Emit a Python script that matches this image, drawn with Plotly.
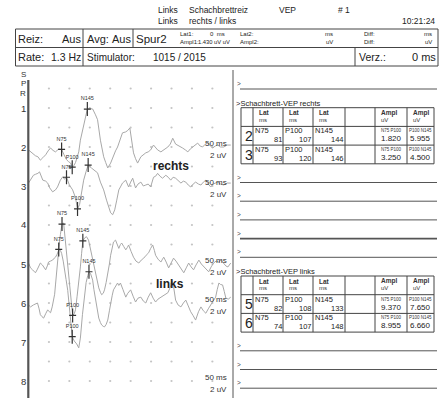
import plotly.graph_objects as go

W, H = 444, 398
FONT = "Liberation Sans, Arial, sans-serif"

# ---------------- recording data ----------------
# channels (Spur) shown on the sweep panel
spur = [2, 3, 5, 6]
side = ["rechts", "rechts", "links", "links"]

# sweep time (ms) and upward deflection (µV) for each channel
sp2_ms = [0, 5, 12, 17, 23, 29, 35, 42, 48, 54, 60, 66, 74, 81, 87, 93, 98, 103, 107, 111,
          115, 119, 123, 127, 131, 135, 140, 144, 150, 157, 164, 169, 176, 184, 189, 194, 201,
          208, 213, 218, 224, 230, 238, 243, 248, 252, 257, 262, 267, 275, 281, 287, 293, 299,
          306, 311, 316, 324, 333, 341, 347, 353, 360, 365, 371, 377, 384, 390, 396, 402, 408,
          414, 420, 426, 433, 439, 445, 451, 457, 463, 470, 478, 486, 495]
sp2_uv = [-0.3, -0.5, -0.7, -0.9, -1.0, -1.35, -1.1, -0.8, -0.4, -0.1, -0.35, -0.5, -0.2, -0.25,
          -0.8, -1.3, -1.5, -1.65, -2.07, -1.9, -1.6, -1.0, -0.5, 0.7, 1.5, 2.3, 3.1, 3.885, 3.95,
          3.9, 3.3, 2.8, 0.7, -1.0, -1.6, -2.15, -1.65, -0.8, -0.4, 0.0, 0.8, 1.45, 1.55, 1.7,
          1.95, 0.7, -0.6, -1.2, -1.65, -1.0, -0.8, -0.6, -0.5, -0.3, 0.2, -0.1, -0.3, -0.5, -0.2,
          0.0, 0.3, 0.9, 0.3, 0.2, 0.1, -0.1, -0.3, -0.5, -0.2, 0.0, 0.2, 0.4, 0.1, 0.0, 0.3, 0.4,
          0.1, -0.1, 0.1, 0.2, 0.0, 0.0, 0.2, 0.2]

sp3_ms = [0, 5, 12, 17, 23, 27, 31, 35, 42, 47, 52, 59, 66, 71, 78, 84, 88, 93, 100, 108, 115,
          120, 125, 130, 135, 141, 146, 154, 162, 169, 176, 184, 191, 196, 201, 206, 211, 216,
          221, 225, 230, 238, 245, 250, 255, 262, 268, 275, 281, 287, 293, 299, 306, 311, 316,
          322, 328, 336, 342, 348, 354, 360, 367, 373, 379, 385, 391, 397, 403, 409, 416, 422,
          428, 434, 440, 446, 452, 458, 463, 470, 478, 486, 495]
sp3_uv = [0.3, 0.6, 1.1, 1.2, 1.3, 1.45, 1.0, 0.6, 0.5, 0.3, -0.2, -0.6, -0.4, -0.1, 0.6, 0.95,
          0.7, 0.9, 0.1, -0.4, -1.2, -2.35, -1.9, -0.6, 0.6, 1.5, 2.15, 1.85, 1.55, 1.35, 0.4,
          -0.4, -1.45, -2.15, -2.75, -2.95, -2.45, -1.45, -0.4, -0.1, 0.3, 0.6, -0.1, 0.4, 0.8,
          -0.2, 0.2, 0.4, 0.0, 0.1, 0.2, -0.1, 0.9, 1.0, 1.3, 1.0, 0.8, 1.1, 0.9, 0.6, 0.9, 0.8,
          0.5, 0.3, 0.5, 0.4, 0.1, -0.1, 0.2, 0.4, 0.2, 0.1, 0.4, 0.6, 0.2, -0.1, 0.2, 0.3, 0.4,
          0.2, 0.1, 0.3, 0.3]

sp5_ms = [0, 5, 10, 17, 21, 25, 29, 34, 38, 42, 46, 49, 54, 59, 63, 66, 70, 74, 78, 82, 86, 91,
          95, 98, 102, 105, 108, 112, 115, 119, 123, 127, 130, 133, 138, 142, 147, 152, 159, 164,
          168, 172, 176, 179, 183, 186, 190, 194, 198, 201, 205, 208, 213, 217, 221, 225, 228,
          233, 238, 242, 245, 251, 257, 263, 270, 276, 282, 288, 294, 299, 304, 308, 311, 317,
          324, 328, 331, 337, 343, 349, 355, 361, 368, 374, 380, 386, 392, 398, 404, 410, 417,
          423, 429, 435, 441, 447, 453, 459, 465, 471, 477, 483, 488, 495]
sp5_uv = [0.1, -0.4, -0.6, -0.9, -0.6, -0.3, 0.1, -0.1, -0.4, -0.6, -0.2, 0.2, 0.3, 0.4, 0.6, 0.7,
          1.0, 1.45, 3.0, 4.1, 4.2, 2.15, 0.4, -1.3, -2.6, -3.7, -5.27, -5.1, -4.7, -3.3, -1.95,
          -0.3, 1.1, 2.38, 2.7, 2.8, 2.45, 1.45, 0.2, -1.1, -1.9, -2.45, -2.9, -3.15, -3.0, -2.65,
          -1.9, -1.1, 0.0, 0.9, 1.7, 2.25, 2.45, 2.1, 1.6, 2.0, 2.15, 1.8, 1.45, 1.7, 1.95, 1.3,
          0.7, 0.3, 0.1, 0.4, 0.6, 0.9, 1.15, 1.6, 1.95, 1.4, 0.9, 0.5, 0.2, 0.5, 0.7, 0.2, -0.4,
          0.1, 0.6, 0.3, -0.1, -0.5, -0.9, -0.4, 0.1, -0.3, -0.6, -0.1, 0.4, 0.0, -0.3, -0.6,
          -0.8, -0.3, 0.1, 0.3, 0.2, 0.4, 0.1, -0.2, -0.3, 0.1]

sp6_ms = [0, 5, 12, 17, 22, 26, 29, 33, 37, 42, 47, 51, 54, 58, 61, 64, 66, 70, 74, 78, 81, 85,
          88, 92, 96, 100, 103, 107, 112, 118, 123, 127, 132, 137, 141, 145, 148, 152, 157, 160,
          164, 168, 172, 176, 179, 183, 186, 190, 194, 198, 201, 205, 208, 213, 218, 221, 225,
          231, 238, 243, 250, 256, 262, 268, 275, 281, 287, 293, 299, 305, 311, 317, 324, 330,
          336, 341, 347, 351, 355, 360, 366, 373, 379, 385, 391, 397, 403, 409, 416, 422, 428,
          434, 440, 446, 452, 458, 462, 466, 470, 475, 479, 483, 489, 495]
sp6_uv = [-0.2, -0.4, -0.2, -0.1, 0.0, -0.6, -1.2, -1.4, -1.55, -1.1, -0.7, -0.9, -1.0, -0.4, 0.1,
          0.9, 1.85, 3.8, 5.5, 5.4, 5.1, 4.3, 3.6, 2.4, 1.3, -0.2, -1.5, -3.455, -3.9, -4.2, -4.6,
          -3.6, -1.2, 1.1, 2.1, 2.8, 3.205, 3.0, 2.35, 1.4, 0.3, -0.7, -1.55, -2.0, -2.25, -2.4,
          -2.45, -2.2, -1.75, -0.8, 0.1, 0.8, 1.35, 1.7, 2.05, 1.8, 2.05, 1.4, 0.6, 1.0, 1.35,
          0.7, 0.1, 0.5, 0.6, 0.2, 0.0, 0.6, 1.05, 0.5, 0.1, 0.4, 0.6, 0.8, 0.9, 1.05, 1.6, 2.3,
          1.7, 0.3, -0.2, -0.4, 0.0, 0.3, -0.3, -0.9, -1.3, -1.75, -0.9, -0.4, -0.8, -1.05, -0.6,
          -0.2, 0.3, 0.6, 1.4, 2.05, 1.9, 1.85, 1.2, 0.5, 0.4, 0.6]

sweeps_ms = [sp2_ms, sp3_ms, sp5_ms, sp6_ms]
sweeps_uv = [sp2_uv, sp3_uv, sp5_uv, sp6_uv]

# peak latencies (ms) and peak-to-peak amplitudes (µV)
lat_n75 = [81, 93, 82, 74]
lat_p100 = [107, 120, 108, 107]
lat_n145 = [144, 146, 133, 148]
ampl_n75_p100 = [1.820, 3.250, 9.370, 8.955]
ampl_p100_n145 = [5.955, 4.500, 7.650, 6.660]
n75_level = [-0.25, 0.9, 4.1, 5.5]   # deflection at the N75 cursor (µV)
peak_names = ["N75", "P100", "N145"]

rows = [1, 2, 3, 4, 5, 6, 7, 8]
scale_rows = [2, 3, 5, 6, 8]
grid_ms = [50, 100, 150, 200, 250, 300, 350, 400, 450]
row_gap_uv = 4.0           # channel spacing on screen
grid_uv = [-2.0 * k for k in range(1, 17)]

# ---------------- helpers ----------------
shapes, ann = [], []


def xp(x):
    return x / W


def yp(y):
    return 1 - y / H


def text(x, y, s, size=8, anchor="left", color="#222", family=FONT):
    ann.append(dict(x=xp(x), y=yp(y), xref="paper", yref="paper", text=s, showarrow=False,
                    xanchor=anchor, yanchor="middle", borderpad=0,
                    font=dict(size=size, family=family, color=color)))


def hline(x0, x1, y, w=1, c="#444"):
    shapes.append(dict(type="line", xref="paper", yref="paper", x0=xp(x0), x1=xp(x1),
                       y0=yp(y), y1=yp(y), line=dict(width=w, color=c)))


def vline(x, y0, y1, w=1, c="#444"):
    shapes.append(dict(type="line", xref="paper", yref="paper", x0=xp(x), x1=xp(x),
                       y0=yp(y0), y1=yp(y1), line=dict(width=w, color=c)))


fig = go.Figure()

# ---------------- sweep panel ----------------
gx, gy = [], []
for t in grid_ms:
    for v in grid_uv:
        gx.append(t)
        gy.append(v)
fig.add_trace(go.Scatter(x=gx, y=gy, mode="markers", hoverinfo="skip",
                         marker=dict(size=2.2, color="#c4c4c4")))

for i, ch in enumerate(spur):
    base = -row_gap_uv * ch
    fig.add_trace(go.Scatter(x=sweeps_ms[i], y=[base + v for v in sweeps_uv[i]], mode="lines",
                             line=dict(color="#a8a8a8", width=1), hoverinfo="skip"))

for i, ch in enumerate(spur):
    base = -row_gap_uv * ch
    lv_n75 = n75_level[i]
    lv_p100 = lv_n75 - ampl_n75_p100[i]
    lv_n145 = lv_p100 + ampl_p100_n145[i]
    mx = [lat_n75[i], lat_p100[i], lat_n145[i]]
    my = [base + lv_n75, base + lv_p100, base + lv_n145]
    fig.add_trace(go.Scatter(x=mx, y=my, mode="markers+text", text=peak_names,
                             textposition="top center",
                             textfont=dict(size=5.5, family=FONT, color="#333"),
                             marker=dict(symbol="line-ns", size=10,
                                         line=dict(width=1.2, color="#333")),
                             hoverinfo="skip"))
    fig.add_trace(go.Scatter(x=mx, y=my, mode="markers",
                             marker=dict(symbol="line-ew", size=5,
                                         line=dict(width=1.2, color="#333")),
                             hoverinfo="skip"))


# px position of channel rows: row 1 at y=108, 39 px per row
def row_y(r):
    return 108 + 39 * (r - 1)


for r in rows:
    text(26.5, row_y(r), str(r), size=9.5, anchor="right", color="#333")
for i, ch in enumerate("SPR"):
    text(26.5, 74 + 9.5 * i, ch, size=8, anchor="right", color="#333")
for r in scale_rows:
    text(228, row_y(r) - 4, "50 ms", size=8, anchor="right", color="#333")
    text(228, row_y(r) + 8, "2 uV", size=8, anchor="right", color="#333")
text(171, 166, "<b>rechts</b>", size=12, anchor="center", color="#222")
text(170, 284, "<b>links</b>", size=12, anchor="center", color="#222")

vline(28.3, 80, 398, w=2.2, c="#555")
vline(233, 70, 398, w=1, c="#555")

# ---------------- header ----------------
text(157, 10, "Links", 8.5)
text(188, 10, "Schachbrettreiz", 8.5)
text(278, 10, "VEP", 8.5)
text(337, 10, "# 1", 8.5)
text(157, 21, "Links", 8.5)
text(188, 21, "rechts / links", 8.5)
text(436, 21, "10:21:24", 8.5, anchor="right")

shapes.append(dict(type="rect", xref="paper", yref="paper", x0=xp(15.5), x1=xp(438),
                   y0=yp(29), y1=yp(66), line=dict(width=1, color="#444")))
hline(15.5, 438, 47.5)
vline(83, 29, 66)
vline(133, 29, 47.5)
vline(355, 47.5, 66)

text(17, 38.5, "Reiz:", 11)
text(82, 38.5, "Aus", 11, anchor="right")
text(86, 38.5, "Avg:", 11)
text(132, 38.5, "Aus", 11, anchor="right")
text(134.5, 38.5, "Spur2", 11.5)
text(179, 34, "Lat1:", 6)
text(179, 42.5, "Ampl1:", 6)
text(226, 34, "0  ms", 6, anchor="right")
text(231, 42.5, "1.430 uV uV", 5.8, anchor="right")
text(239, 34, "Lat2:", 6)
text(239, 42.5, "Ampl2:", 6)
text(334, 34, "ms", 6, anchor="right")
text(334, 42.5, "uV", 6, anchor="right")
text(363, 34, "Diff:", 6)
text(363, 42.5, "Diff:", 6)
text(433, 34, "ms", 6, anchor="right")
text(433, 42.5, "uV", 6, anchor="right")

text(17, 57, "Rate:", 11)
text(82, 57, "1.3 Hz", 10.5, anchor="right")
text(86, 57, "Stimulator:", 10)
text(152, 57, "1015 / 2015", 10)
text(358, 57, "Verz.:", 10.5)
text(437, 57, "0 ms", 11, anchor="right")

# ---------------- result panel ----------------
STEP = 18.7
prompt_lines = [89, 89 + 5 * STEP, 89 + 6 * STEP, 89 + 7 * STEP, 89 + 8 * STEP,
                89 + 9 * STEP, 89 + 14 * STEP, 89 + 15 * STEP, 89 + 16 * STEP]
for k, ly in enumerate(prompt_lines):
    hline(240, 437, ly, w=1.6 if k == 4 else 1, c="#555")
    text(236, ly - 5.5, "&gt;", 6.5, color="#444")

col_x = [241, 253, 283, 313, 345, 375, 407, 434]
tables = [("rechts", 89 + STEP, [0, 1]), ("links", 89 + 10 * STEP, [2, 3])]
for name, top, idx in tables:
    text(235, top - 4.5, "&gt;Schachbrett-VEP " + name, 7.5)
    ys = [top + STEP * k for k in range(len(idx) + 2)]
    for y in ys:
        hline(col_x[0], col_x[-1], y)
    for x in col_x:
        vline(x, ys[0], ys[-1])
    for c in range(3):
        text(col_x[1 + c] + 5, top + 5, "<b>Lat</b>", 6.5, color="#333")
        text(col_x[1 + c] + 5, top + 12, "ms", 6, color="#333")
    for c in range(2):
        text(col_x[5 + c] + 5, top + 5, "<b>Ampl</b>", 6.5, color="#333")
        text(col_x[5 + c] + 5, top + 12, "uV", 6, color="#333")
    for k, i in enumerate(idx):
        ry = ys[1 + k]
        text(col_x[1] + 0.5, ry + 9.5, str(spur[i]), 14, anchor="right")
        lats = [lat_n75[i], lat_p100[i], lat_n145[i]]
        for c in range(3):
            text(col_x[1 + c] + 1, ry + 4.5, peak_names[c], 7.5)
            text(col_x[2 + c] - 0.5, ry + 13.5, str(lats[c]), 7.5, anchor="right")
        amps = [ampl_n75_p100[i], ampl_p100_n145[i]]
        pairs = ["N75 P100", "P100 N145"]
        for c in range(2):
            cx = (col_x[5 + c] + col_x[6 + c]) / 2
            text(cx, ry + 4.5, pairs[c], 4.5, anchor="center", color="#333")
            text(cx, ry + 12.5, "%.3f" % amps[c], 8, anchor="center")

# ---------------- layout ----------------
px_per_uv = 9.75


def uv_at(py_):
    # row 1 baseline (-4 µV) sits at y=108 px
    return -4 - (py_ - 108) / px_per_uv


fig.update_layout(
    width=W, height=H, margin=dict(l=0, r=0, t=0, b=0),
    paper_bgcolor="white", plot_bgcolor="white", showlegend=False,
    xaxis=dict(domain=[xp(28.5), xp(232.8)], range=[0, 500], visible=False, fixedrange=True),
    yaxis=dict(domain=[0, yp(68)], range=[uv_at(398), uv_at(68)], visible=False,
               fixedrange=True),
    shapes=shapes, annotations=ann,
)

fig.write_html("out.html")
